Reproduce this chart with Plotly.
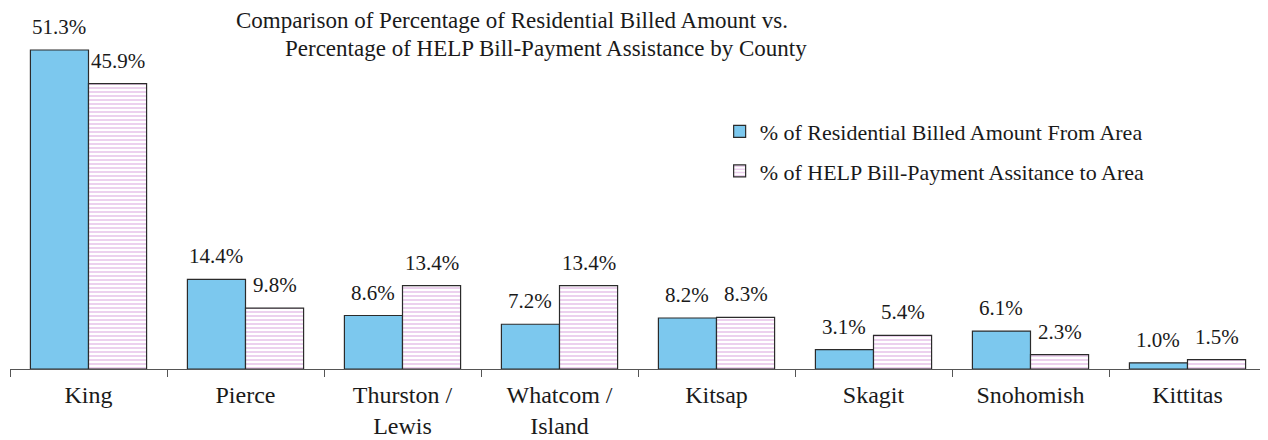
import plotly.graph_objects as go

categories = ["King", "Pierce", "Thurston /<br>Lewis", "Whatcom /<br>Island",
              "Kitsap", "Skagit", "Snohomish", "Kittitas"]
billed_pct = [51.3, 14.4, 8.6, 7.2, 8.2, 3.1, 6.1, 1.0]
help_pct = [45.9, 9.8, 13.4, 13.4, 8.3, 5.4, 2.3, 1.5]
series_names = ["% of Residential Billed Amount From Area",
                "% of HELP Bill-Payment Assitance to Area"]
title_lines = ["Comparison of Percentage of Residential Billed Amount vs.",
               "Percentage of HELP Bill-Payment Assistance by County"]

FONT = "Liberation Serif"
BLUE = "#7cc8ee"
PINK = "#d08cd4"
OUTLINE = "#2b2b2b"
TEXT = "#1a1a1a"
BARGAP = 0.26

fig = go.Figure()
fig.add_trace(go.Bar(
    x=categories, y=billed_pct, name=series_names[0], legendgroup="a",
    marker=dict(color=BLUE, line=dict(color=OUTLINE, width=1.2)),
))
fig.add_trace(go.Bar(
    x=categories, y=help_pct, name=series_names[1], legendgroup="b",
    marker=dict(color="white", line=dict(color=OUTLINE, width=1.2),
                pattern=dict(shape="-", fgcolor=PINK, bgcolor="white",
                             size=4, solidity=0.4)),
))

# value labels above each bar
half = (1 - BARGAP) / 2
for series, off in ((billed_pct, -half / 2), (help_pct, half / 2)):
    for i, v in enumerate(series):
        fig.add_annotation(x=i + off, y=v, xref="x", yref="y",
                           text=f"{v:.1f}%", showarrow=False,
                           yanchor="bottom", yshift=9,
                           font=dict(family=FONT, size=21, color=TEXT))

# two-line title
for line, xc, yc in zip(title_lines, (0.400, 0.427), (0.972, 0.894)):
    fig.add_annotation(x=xc, y=yc, xref="paper", yref="paper",
                       text=line, showarrow=False, xanchor="center",
                       yanchor="middle",
                       font=dict(family=FONT, size=23, color=TEXT))

fig.update_layout(
    width=1268, height=440,
    margin=dict(l=2, r=10, t=2, b=79),
    paper_bgcolor="white", plot_bgcolor="white",
    barmode="group", bargap=BARGAP, bargroupgap=0,
    font=dict(family=FONT, color=TEXT),
    legend=dict(x=0.565, y=0.72, xanchor="left", yanchor="top",
                font=dict(family=FONT, size=22, color=TEXT),
                tracegroupgap=8, bgcolor="rgba(0,0,0,0)"),
    xaxis=dict(showline=True, linecolor="#555555", linewidth=1.2,
               ticks="outside", tickson="boundaries", ticklen=7,
               tickcolor="#555555", tickwidth=1.2,
               tickfont=dict(family=FONT, size=24, color=TEXT),
               ticklabelstandoff=4, automargin=False, fixedrange=True),
    yaxis=dict(range=[0, 57.73], visible=False, showgrid=False,
               fixedrange=True),
)

fig.write_html("out.html")
